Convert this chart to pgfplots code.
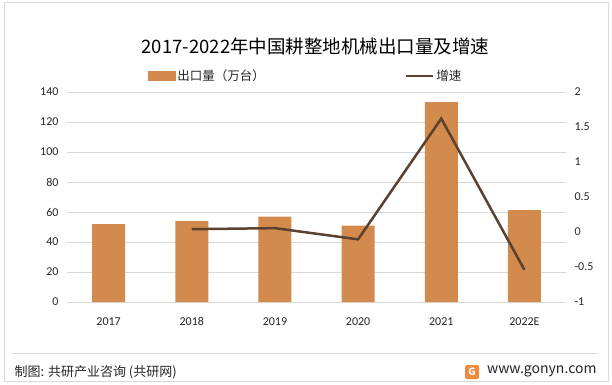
\documentclass[border=0pt]{standalone}
\usepackage{pgfplots}
\pgfplotsset{compat=1.18}
\usepackage{fontspec}
\setmainfont{Noto Sans CJK SC}
\newfontfamily\carlito{Carlito}
\definecolor{barcol}{HTML}{D38B4D}
\definecolor{linecol}{HTML}{5B4130}
\definecolor{gridcol}{HTML}{D9D9D9}
\definecolor{txtcol}{HTML}{262626}
\definecolor{logocol}{HTML}{F08A3C}
\begin{document}
\begin{tikzpicture}[x=1bp,y=1bp]
\path[use as bounding box] (0,0) rectangle (612,384);
\fill[white] (0,0) rectangle (612,384);
\draw[gridcol,line width=1bp] (4,3) rectangle (608,381);
% title
\node[font=\fontsize{18.5bp}{22bp}\selectfont,text=black] at (315.5,338) {2017-2022年中国耕整地机械出口量及增速};
\begin{axis}[
  at={(67bp,82bp)}, anchor=south west,
  scale only axis, width=499bp, height=210bp,
  xmin=-0.5, xmax=5.5, ymin=0, ymax=140,
  ytick distance=20,
  xtick={0,...,5},
  xticklabels={2017,2018,2019,2020,2021,2022E},
  axis line style={draw=none},
  major tick length=0pt,
  ymajorgrids, grid style={gridcol,line width=0.8bp},
  /pgf/number format/assume math mode=true,
  tick label style={font=\carlito\fontsize{12bp}{14bp}\selectfont,text=txtcol},
  yticklabel style={xshift=-5bp},
  xticklabel style={yshift=-12bp},
  ybar, bar width=33bp,
]
\addplot[fill=barcol,draw=none] coordinates {(0,52) (1,54) (2,56.9) (3,50.9) (4,133.3) (5,61.3)};
\end{axis}
\begin{axis}[
  at={(67bp,82bp)}, anchor=south west,
  scale only axis, width=499bp, height=210bp,
  xmin=-0.5, xmax=5.5, ymin=-1, ymax=2,
  ytick distance=0.5,
  axis y line*=right,
  hide x axis,
  axis line style={draw=none},
  major tick length=0pt,
  /pgf/number format/assume math mode=true,
  tick label style={font=\carlito\fontsize{12bp}{14bp}\selectfont,text=txtcol},
  yticklabel style={xshift=5bp},
  legend style={at={(rel axis cs:0.162,1.076)}, anchor=west, draw=none, fill=none, inner sep=0pt,
    font=\fontsize{12.5bp}{14bp}\selectfont, text=txtcol,
    /tikz/every even column/.append style={column sep=138bp}},
  legend columns=2,
]
\addlegendimage{legend image code/.code={\fill[barcol] (0bp,-4.5bp) rectangle (27bp,4.5bp);}}
\addlegendentry{出口量（万台）}
\addplot[linecol,line width=2.5bp,mark=none,legend image code/.code={\draw[linecol,line width=2.5bp] (0bp,0bp)--(27bp,0bp);}] coordinates {(1,0.04) (2,0.055) (3,-0.105) (4,1.62) (5,-0.54)};
\addlegendentry{增速}
\end{axis}
% footer
\draw[gridcol,line width=1bp] (12,31) -- (598,31);
\node[anchor=west,font=\fontsize{13bp}{15bp}\selectfont,text=txtcol] at (11,12) {制图: 共研产业咨询 (共研网)};
\fill[logocol,rounded corners=1.5bp] (465,5) rectangle (479,19);
\node[font=\bfseries\fontsize{10bp}{12bp}\selectfont,text=white] at (472,12) {G};
\node[anchor=east,font=\fontsize{14bp}{16bp}\selectfont,text=txtcol] at (600,13) {www.gonyn.com};
\end{tikzpicture}
\end{document}
